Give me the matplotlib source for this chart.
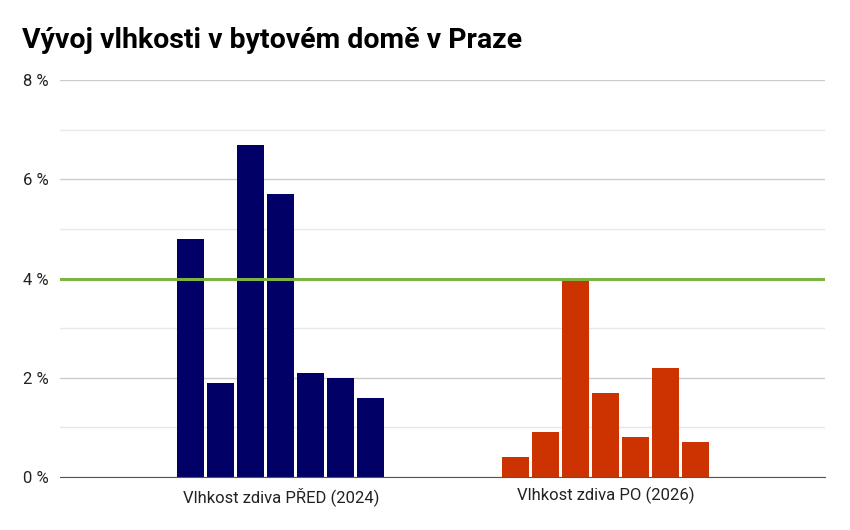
import matplotlib.pyplot as plt
import numpy as np

plt.rcParams['font.family'] = ['Roboto', 'DejaVu Sans']

# data
skupiny = ['Vlhkost zdiva PŘED (2024)', 'Vlhkost zdiva PO (2026)']
pred = [4.8, 1.9, 6.7, 5.7, 2.1, 2.0, 1.6]
po = [0.4, 0.9, 4.0, 1.7, 0.8, 2.2, 0.7]
limit = 4.0
barvy = ['#000066', '#cc3300']

fig = plt.figure(figsize=(8.5, 5.3), dpi=100)
ax = fig.add_axes([60/850, 1 - 477/530, 765/850, 397/530])

sirka = 0.083
krok = 0.0923
offs = (np.arange(7) - 3) * krok
for i, hodnoty in enumerate([pred, po]):
    ax.bar(i + offs, hodnoty, width=sirka, color=barvy[i], zorder=3)

ax.axhline(limit, color='#7cb342', lw=2.2, zorder=4)

ax.set_xlim(-0.68, 1.675)
ax.set_ylim(0, 8)
ax.set_yticks(range(0, 9, 2))
ax.set_yticklabels([f'{v} %' for v in range(0, 9, 2)], fontsize=12, color='#222222')
ax.set_yticks(range(1, 9, 2), minor=True)
ax.set_xticks([0, 1])
ax.set_xticklabels(skupiny, fontsize=12, color='#222222')
ax.grid(axis='y', which='major', color='#cccccc', lw=1, zorder=0)
ax.grid(axis='y', which='minor', color='#e8e8e8', lw=1, zorder=0)
ax.tick_params(axis='both', which='both', length=0)
ax.tick_params(axis='y', pad=8)
ax.tick_params(axis='x', pad=7)
for s in ['left', 'right', 'top']:
    ax.spines[s].set_visible(False)
ax.spines['bottom'].set_color('#555555')
ax.spines['bottom'].set_zorder(5)

fig.text(22/850, 1 - 40/530, 'Vývoj vlhkosti v bytovém domě v Praze',
         fontsize=20.5, fontweight='bold', va='center', ha='left')

fig.savefig('out.png', dpi=100)
